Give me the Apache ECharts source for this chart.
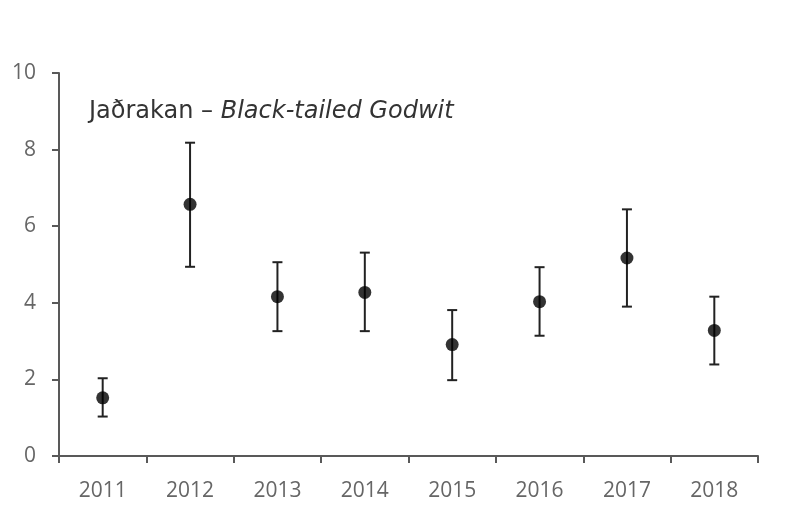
<!DOCTYPE html>
<html><head><meta charset="utf-8">
<script src="https://cdn.jsdelivr.net/npm/echarts@6/dist/echarts.min.js"></script>
<style>html,body{margin:0;padding:0;background:#fff}#c{width:805px;height:530px}</style>
</head><body><div id="c"></div>
<script>
const years = ['2011','2012','2013','2014','2015','2016','2017','2018'];
const estimate = [1.52, 6.57, 4.16, 4.27, 2.91, 4.03, 5.17, 3.28];
const lower = [1.03, 4.94, 3.26, 3.26, 1.98, 3.14, 3.90, 2.39];
const upper = [2.03, 8.18, 5.06, 5.31, 3.81, 4.93, 6.44, 4.16];
const yTicks = [0, 2, 4, 6, 8, 10];

const chart = echarts.init(document.getElementById('c'));
const font = 'Open Sans';
const titleFont = 'DejaVu Sans';
chart.setOption({
  animation: false,
  backgroundColor: '#fff',
  title: {
    text: '{a|Jaðrakan – }{b|Black-tailed Godwit}',
    left: 84, top: 95,
    textStyle: {
      rich: {
        a: {fontFamily: titleFont, fontSize: 24, color: '#333', fontWeight: 'normal'},
        b: {fontFamily: titleFont, fontSize: 24, color: '#333', fontStyle: 'italic', fontWeight: 'normal'}
      }
    }
  },
  grid: {left: 59, right: 47, top: 73, bottom: 74},
  xAxis: {
    type: 'category', data: years, boundaryGap: true,
    axisLine: {lineStyle: {color: '#595959', width: 2}},
    axisTick: {show: true, alignWithLabel: false, length: 7, lineStyle: {color: '#595959', width: 2}},
    axisLabel: {color: '#666', fontFamily: font, fontSize: 21, margin: 25}
  },
  yAxis: {
    type: 'value', min: yTicks[0], max: yTicks[yTicks.length-1], interval: 2,
    splitLine: {show: false},
    axisLine: {show: true, lineStyle: {color: '#595959', width: 2}},
    axisTick: {show: true, length: 7, lineStyle: {color: '#595959', width: 2}},
    axisLabel: {color: '#666', fontFamily: font, fontSize: 21, margin: 23}
  },
  series: [
    {
      type: 'custom',
      data: years.map((y, i) => [i, lower[i], upper[i]]),
      renderItem: function (params, api) {
        const x = api.value(0);
        const lo = api.coord([x, api.value(1)]);
        const hi = api.coord([x, api.value(2)]);
        const hw = 5;
        const st = {stroke: '#222', lineWidth: 2};
        return {type: 'group', children: [
          {type: 'line', shape: {x1: lo[0], y1: lo[1], x2: hi[0], y2: hi[1]}, style: st},
          {type: 'line', shape: {x1: lo[0]-hw, y1: lo[1], x2: lo[0]+hw, y2: lo[1]}, style: st},
          {type: 'line', shape: {x1: hi[0]-hw, y1: hi[1], x2: hi[0]+hw, y2: hi[1]}, style: st}
        ]};
      },
      z: 2
    },
    {
      type: 'scatter', data: estimate, symbol: 'circle', symbolSize: 13,
      itemStyle: {color: '#000'}, z: 3
    }
  ]
});
</script></body></html>
